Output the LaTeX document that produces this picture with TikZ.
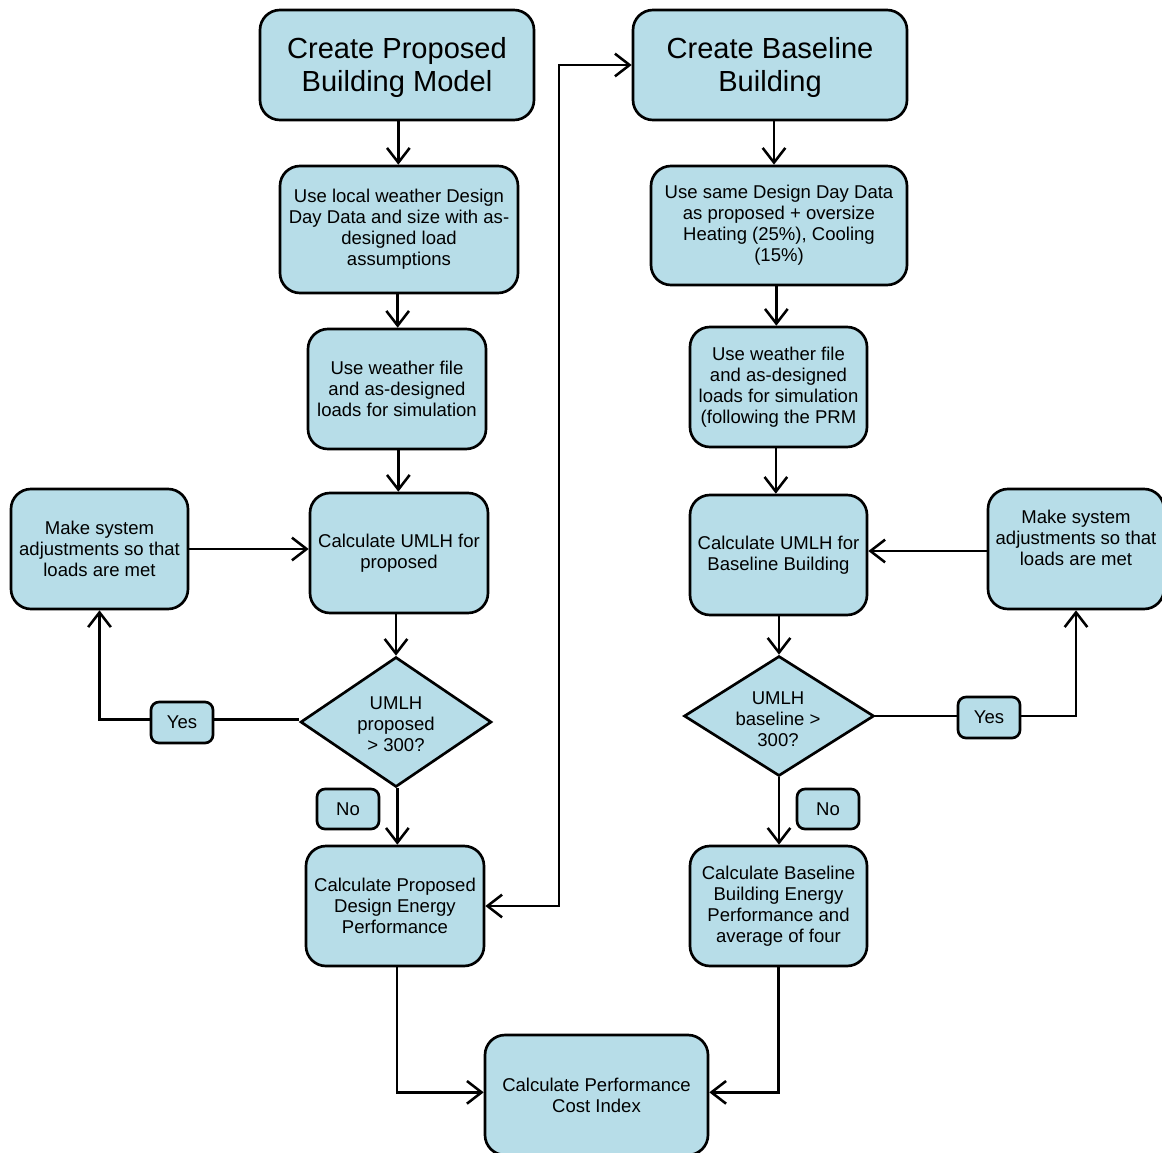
\documentclass[tikz,border=0pt]{standalone}
\usepackage{fontspec}
\setmainfont{Liberation Sans}
\usetikzlibrary{arrows.meta,shapes.geometric}
\definecolor{boxfill}{HTML}{B7DDE8}
\begin{document}
\begin{tikzpicture}[x=0.75pt,y=-0.75pt,
  >={Straight Barb[length=11pt,width=17pt]},
  sz/.style 2 args={minimum width=#1*0.75pt,minimum height=#2*0.75pt},
  base/.style={draw=black,line width=2pt,fill=boxfill,align=center,inner sep=2pt,
    font=\fontsize{13.9pt}{15.75pt}\selectfont},
  pbox/.style={base,rectangle,rounded corners=15pt},
  titlebox/.style={pbox,font=\fontsize{21.8pt}{24.75pt}\selectfont},
  tag/.style={base,rectangle,rounded corners=6pt},
  dec/.style={base,diamond,inner sep=0pt},
  txt/.style={align=center,font=\fontsize{13.9pt}{15.75pt}\selectfont},
  ttxt/.style={align=center,font=\fontsize{21.8pt}{24.75pt}\selectfont},
  arr/.style={line width=1.9pt,->},
  ln/.style={line width=1.9pt}]
\useasboundingbox (0,0) rectangle (1162,1152);
\clip (0,0) rectangle (1162,1152);

% left column
\node[pbox,sz={274}{110}] (A) at (397,65) {};
\node[ttxt] (At) at (397,67.5) {Create Proposed\\Building Model};
\node[pbox,sz={238}{127}] (C) at (399,229.5) {Use local weather Design\\Day Data and size with as-\\designed load\\assumptions};
\node[pbox,sz={178}{120}] (E) at (397,389) {Use weather file\\and as-designed\\loads for simulation};
\node[pbox,sz={178}{120}] (G) at (399,553) {Calculate UMLH for\\proposed};
\node[pbox,sz={177}{120}] (H) at (99.5,549) {Make system\\adjustments so that\\loads are met};
\node[dec,sz={191}{130}] (K) at (396,722) {};
\node[txt] (Kt) at (396,724) {UMLH\\proposed\\> 300?};
\node[pbox,sz={178}{120}] (M) at (395,906) {Calculate Proposed\\Design Energy\\Performance};

% right column
\node[pbox,sz={274}{110}] (B) at (770,65) {};
\node[ttxt] (Bt) at (770,67.5) {Create Baseline\\Building};
\node[pbox,sz={256}{119}] (D) at (779,225.5) {Use same Design Day Data\\as proposed + oversize\\Heating (25\%), Cooling\\(15\%)};
\node[pbox,sz={177}{120}] (F) at (778.5,387) {Use weather file\\and as-designed\\loads for simulation\\(following the PRM};
\node[pbox,sz={177}{120}] (I) at (778.5,555) {Calculate UMLH for\\Baseline Building};
\node[pbox,sz={176}{120}] (J) at (1076,549) {};
\node[txt] (Jt) at (1076,537.5) {Make system\\adjustments so that\\loads are met};
\node[dec,sz={190}{120}] (L) at (779,716) {};
\node[txt] (Lt) at (778,719) {UMLH\\baseline >\\300?};
\node[pbox,sz={177}{120}] (N) at (778.5,906) {Calculate Baseline\\Building Energy\\Performance and\\average of four};

% bottom
\node[pbox,sz={223}{120}] (O) at (596.5,1095) {Calculate Performance\\Cost Index};

% connectors left
\draw[arr] ([xshift=1pt]A.south) -- ([xshift=1pt]A.south |- C.north);
\draw[arr] ([xshift=-1pt]C.south) -- ([xshift=-1pt]C.south |- E.north);
\draw[arr] ([xshift=1pt]E.south) -- ([xshift=1pt]E.south |- G.north);
\draw[arr] (G.south -| K.north) -- (K.north);
\draw[arr] (H.east) -- (H.east -| G.west);
\draw[arr] ([yshift=2pt]K.west) -| (H.south);
\draw[arr] ([xshift=1pt]K.south) -- ([xshift=1pt]K.south |- M.north);

% connectors right
\draw[arr] ([xshift=3pt]B.south) -- ([xshift=3pt]B.south |- D.north);
\draw[arr] ([xshift=-2pt]D.south) -- ([xshift=-2pt]D.south |- F.north);
\draw[arr] ([xshift=-2pt]F.south) -- ([xshift=-2pt]F.south |- I.north);
\draw[arr] (I.south -| L.north) -- (L.north);
\draw[arr] ([yshift=-1.5pt]J.west) -- ([yshift=-1.5pt]J.west -| I.east);
\draw[arr] (L.east) -| (J.south);
\draw[arr] (L.south) -- (L.south |- N.north);

% cross connector
\coordinate (c1) at (559,65);
\coordinate (c2) at (559,906);
\draw[ln,<->] (M.east) -- (c2) -- (c1) -- (B.west);

% to bottom
\draw[arr] ([xshift=1.5pt]M.south) |- ([yshift=2pt]O.west);
\draw[arr] (N.south) |- ([yshift=2pt]O.east);

% labels
\node[tag,sz={62}{41}] (Y1) at (182,722.5) {Yes};
\node[tag,sz={62}{41}] (Y2) at (989,717.5) {Yes};
\node[tag,sz={62}{40}] (N1) at (348,809) {No};
\node[tag,sz={62}{40}] (N2) at (828,809) {No};
\end{tikzpicture}
\end{document}
